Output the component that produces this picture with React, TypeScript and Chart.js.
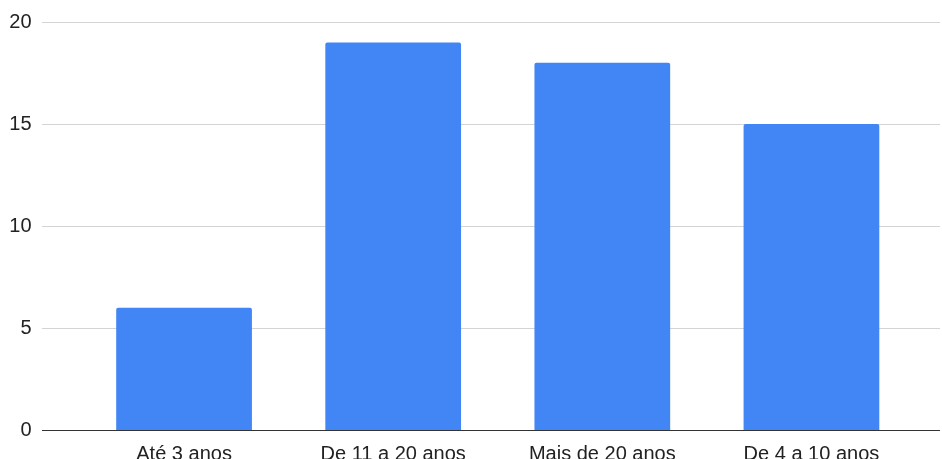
import React, { useEffect, useRef } from "react";
import { Chart, registerables } from "chart.js";

Chart.register(...registerables);

const categories = ["Até 3 anos", "De 11 a 20 anos", "Mais de 20 anos", "De 4 a 10 anos"];
const values = [6, 19, 18, 15];
const yTicks = [0, 5, 10, 15, 20];

const FONT = "Arial, 'Liberation Sans', sans-serif";

const gridPlugin = {
  id: "extendedGrid",
  beforeDatasetsDraw(chart: any) {
    const { ctx, chartArea, scales } = chart;
    const y = scales.y;
    const left = chartArea.left - 37.5;
    const right = chartArea.right + 24;
    ctx.save();
    yTicks.forEach((v) => {
      if (v === 0) return;
      const py = Math.round(y.getPixelForValue(v)) + 0.5;
      ctx.strokeStyle = "#d4d4d4";
      ctx.lineWidth = 1;
      ctx.beginPath();
      ctx.moveTo(left, py);
      ctx.lineTo(right, py);
      ctx.stroke();
    });
    ctx.restore();
  },
  afterDatasetsDraw(chart: any) {
    const { ctx, chartArea, scales } = chart;
    const y = scales.y;
    const left = chartArea.left - 37.5;
    const right = chartArea.right + 24;
    const py = Math.round(y.getPixelForValue(0)) + 0.5;
    ctx.save();
    ctx.strokeStyle = "#333333";
    ctx.lineWidth = 1;
    ctx.beginPath();
    ctx.moveTo(left, py);
    ctx.lineTo(right, py);
    ctx.stroke();
    ctx.restore();
  },
};

export default function App() {
  const ref = useRef<HTMLCanvasElement | null>(null);
  useEffect(() => {
    if (!ref.current) return;
    const chart = new Chart(ref.current, {
      type: "bar",
      data: {
        labels: categories,
        datasets: [
          {
            data: values,
            backgroundColor: "#4285F4",
            borderRadius: 2,
            categoryPercentage: 1,
            barPercentage: 0.649,
          },
        ],
      },
      options: {
        animation: false,
        responsive: false,
        maintainAspectRatio: false,
        layout: { padding: { top: 22, right: 26, left: 0, bottom: 0 } },
        plugins: { legend: { display: false }, tooltip: { enabled: false } },
        scales: {
          x: {
            grid: { display: false },
            border: { display: false },
            ticks: {
              color: "#222222",
              font: { family: FONT, size: 20 },
              padding: 4,
              maxRotation: 0,
            },
            afterFit: (s: any) => {
              s.height = 28.7;
              s.paddingLeft = 0;
              s.paddingRight = 0;
            },
          },
          y: {
            min: 0,
            max: 20,
            grid: { display: false },
            border: { display: false },
            afterBuildTicks: (s: any) => {
              s.ticks = yTicks.map((v) => ({ value: v }));
            },
            ticks: {
              color: "#222222",
              font: { family: FONT, size: 20 },
              padding: 40,
            },
            afterFit: (s: any) => {
              s.width = 79.5;
              s.paddingTop = 0;
              s.paddingBottom = 0;
            },
          },
        },
      },
      plugins: [gridPlugin],
    });
    return () => chart.destroy();
  }, []);
  return (
    <div style={{ position: "absolute", left: 0, top: 0, width: 942, height: 459, overflow: "hidden" }}>
      <canvas ref={ref} width={942} height={459} style={{ display: "block", width: 942, height: 459 }} />
    </div>
  );
}
